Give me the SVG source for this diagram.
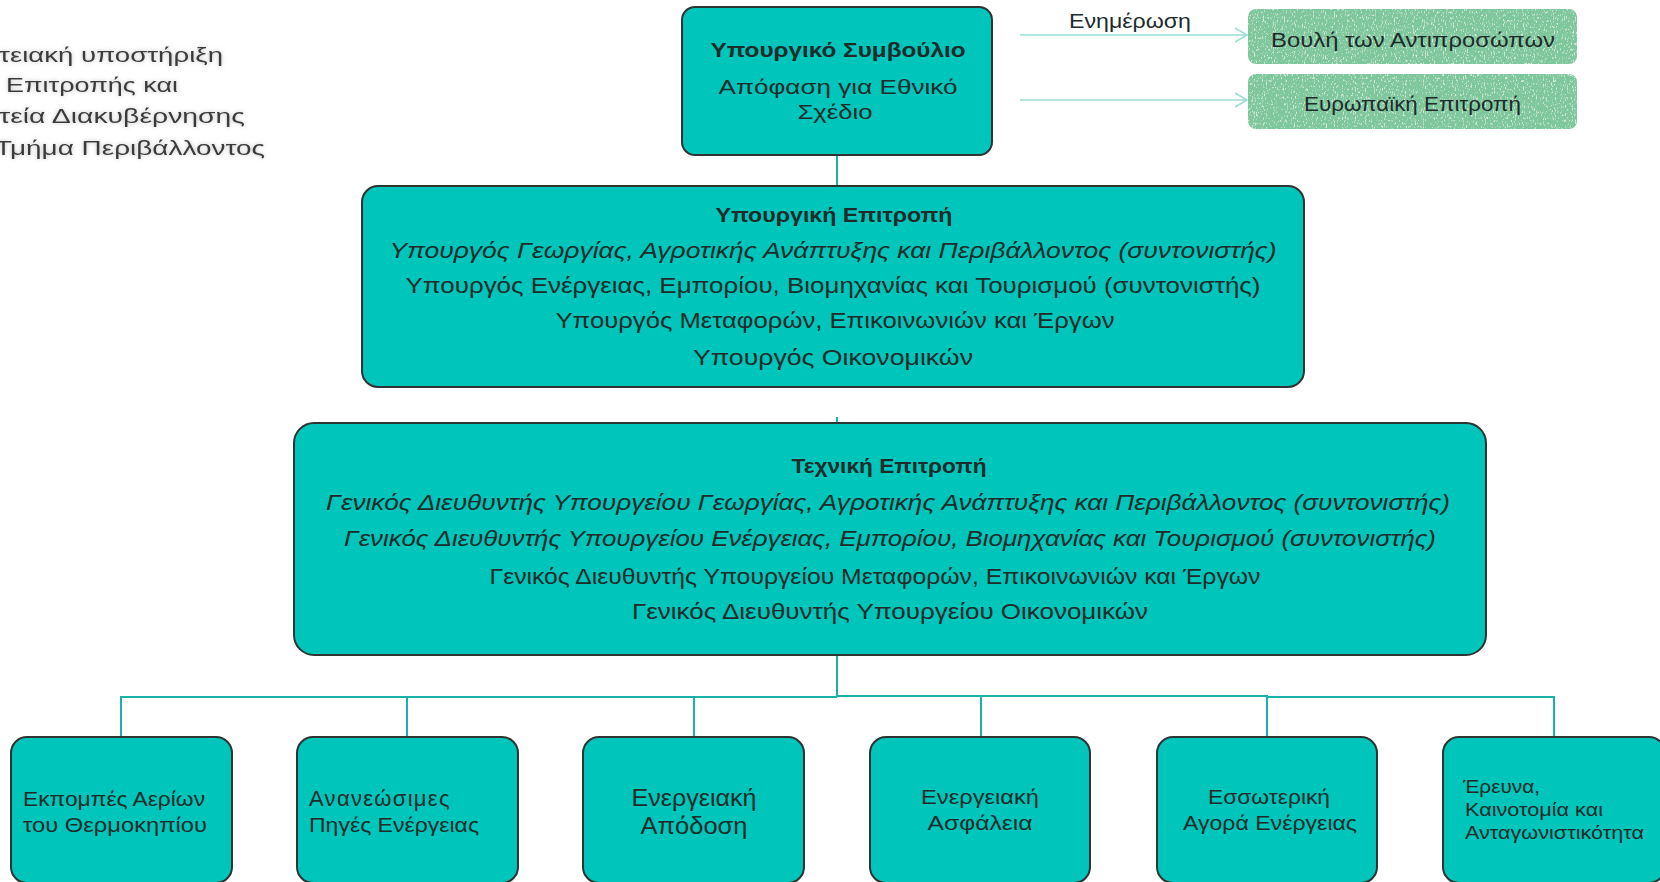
<svg xmlns="http://www.w3.org/2000/svg" width="1660" height="882" viewBox="0 0 1660 882">
<defs>
<style>
.box{fill:#00c5ba;stroke:#2e3333;stroke-width:2}
.gbox{fill:#7ec79c}
.t{font-family:"Liberation Sans","DejaVu Sans",sans-serif;fill:#1e2b2b;font-size:20px}
.c{text-anchor:middle}
.b{font-weight:bold}
.i{font-style:italic}
.con{stroke:#19b2a9;stroke-width:2;fill:none}
.arr{stroke:#9cdcd5;stroke-width:1.5;fill:none}
.side{font-family:"Liberation Sans","DejaVu Sans",sans-serif;fill:#3a3a3a;font-size:21px;text-anchor:end}
</style>
<filter id="tex" x="0" y="0" width="100%" height="100%">
<feTurbulence type="fractalNoise" baseFrequency="0.9 0.35" numOctaves="2" seed="4" result="n"/>
<feColorMatrix in="n" type="matrix" values="0 0 0 0 1  0 0 0 0 1  0 0 0 0 1  5 0 0 0 -2.8" result="spk"/>
<feComposite in="spk" in2="SourceGraphic" operator="in" result="s2"/>
<feComponentTransfer in="s2" result="s3"><feFuncA type="linear" slope="0.6"/></feComponentTransfer>
<feMerge><feMergeNode in="SourceGraphic"/><feMergeNode in="s3"/></feMerge>
</filter>
<filter id="glow" x="-10%" y="-30%" width="120%" height="160%">
<feGaussianBlur in="SourceAlpha" stdDeviation="2.2" result="bl"/>
<feFlood flood-color="#888" flood-opacity="0.55"/>
<feComposite in2="bl" operator="in" result="sh"/>
<feMerge><feMergeNode in="sh"/><feMergeNode in="SourceGraphic"/></feMerge>
</filter>
<marker id="chev" viewBox="0 0 14 16" refX="13" refY="8" markerWidth="14" markerHeight="16" markerUnits="userSpaceOnUse" orient="auto">
<path d="M1,1 L13,8 L1,15" fill="none" stroke="#9cdcd5" stroke-width="1.5"/>
</marker>
</defs>
<rect width="1660" height="882" fill="#ffffff"/>

<g id="side-note" filter="url(#glow)">
<text class="side" x="223" y="62" textLength="224" lengthAdjust="spacingAndGlyphs">τειακή υποστήριξη</text>
<text class="side" x="178" y="92" textLength="172" lengthAdjust="spacingAndGlyphs">Επιτροπής και</text>
<text class="side" x="245" y="123" textLength="246" lengthAdjust="spacingAndGlyphs">τεία Διακυβέρνησης</text>
<text class="side" x="265" y="155" textLength="270" lengthAdjust="spacingAndGlyphs">Τμήμα Περιβάλλοντος</text>
</g>

<g id="connectors">
<line class="con" x1="837" y1="155" x2="837" y2="186"/>
<line class="con" x1="837" y1="417" x2="837" y2="423"/>
<line class="con" x1="837" y1="655" x2="837" y2="696"/>
<path class="con" d="M837,697 H121 V737"/>
<path class="con" d="M837,697 H407 V737"/>
<path class="con" d="M837,697 H694 V737"/>
<path class="con" d="M837,696 H981 V737"/>
<path class="con" d="M837,696 H1267 V737"/>
<path class="con" d="M1267,697 H1554 V737"/>
<line class="arr" x1="1020" y1="35" x2="1247" y2="35" marker-end="url(#chev)"/>
<line class="arr" x1="1020" y1="100" x2="1247" y2="100" marker-end="url(#chev)"/>
<text class="t" x="1069" y="28" textLength="122" lengthAdjust="spacingAndGlyphs">Ενημέρωση</text>
</g>

<g id="cabinet">
<rect class="box" x="682" y="7" width="310" height="148" rx="13"/>
<text class="t c b" x="838" y="57" textLength="255" lengthAdjust="spacingAndGlyphs">Υπουργικό Συμβούλιο</text>
<text class="t c" x="838" y="94" textLength="239" lengthAdjust="spacingAndGlyphs" style="font-size:21px">Απόφαση για Εθνικό</text>
<text class="t c" x="835" y="119" textLength="75" lengthAdjust="spacingAndGlyphs" style="font-size:21px">Σχέδιο</text>
</g>

<g id="parliament">
<rect class="gbox" x="1248" y="9" width="329" height="55" rx="8" filter="url(#tex)"/>
<text class="t" x="1271" y="47" textLength="284" lengthAdjust="spacingAndGlyphs">Βουλή των Αντιπροσώπων</text>
</g>

<g id="eu-commission">
<rect class="gbox" x="1248" y="74" width="329" height="55" rx="8" filter="url(#tex)"/>
<text class="t" x="1304" y="111" textLength="217" lengthAdjust="spacingAndGlyphs">Ευρωπαϊκή Επιτροπή</text>
</g>

<g id="ministerial-committee">
<rect class="box" x="362" y="186" width="942" height="201" rx="16"/>
<text class="t c b" x="834" y="222" textLength="237" lengthAdjust="spacingAndGlyphs">Υπουργική Επιτροπή</text>
<text class="t c i" x="833" y="258" textLength="887" lengthAdjust="spacingAndGlyphs" style="font-size:22px">Υπουργός Γεωργίας, Αγροτικής Ανάπτυξης και Περιβάλλοντος (συντονιστής)</text>
<text class="t c" x="833" y="293" textLength="855" lengthAdjust="spacingAndGlyphs" style="font-size:22px">Υπουργός Ενέργειας, Εμπορίου, Βιομηχανίας και Τουρισμού (συντονιστής)</text>
<text class="t c" x="835" y="328" textLength="559" lengthAdjust="spacingAndGlyphs" style="font-size:22px">Υπουργός Μεταφορών, Επικοινωνιών και Έργων</text>
<text class="t c" x="833" y="365" textLength="280" lengthAdjust="spacingAndGlyphs" style="font-size:22px">Υπουργός Οικονομικών</text>
</g>

<g id="technical-committee">
<rect class="box" x="294" y="423" width="1192" height="232" rx="20"/>
<text class="t c b" x="889" y="473" textLength="195" lengthAdjust="spacingAndGlyphs">Τεχνική Επιτροπή</text>
<text class="t c i" x="888" y="510" textLength="1124" lengthAdjust="spacingAndGlyphs" style="font-size:22px">Γενικός Διευθυντής Υπουργείου Γεωργίας, Αγροτικής Ανάπτυξης και Περιβάλλοντος (συντονιστής)</text>
<text class="t c i" x="890" y="546" textLength="1092" lengthAdjust="spacingAndGlyphs" style="font-size:22px">Γενικός Διευθυντής Υπουργείου Ενέργειας, Εμπορίου, Βιομηχανίας και Τουρισμού (συντονιστής)</text>
<text class="t c" x="875" y="584" textLength="771" lengthAdjust="spacingAndGlyphs" style="font-size:22px">Γενικός Διευθυντής Υπουργείου Μεταφορών, Επικοινωνιών και Έργων</text>
<text class="t c" x="890" y="619" textLength="516" lengthAdjust="spacingAndGlyphs" style="font-size:22px">Γενικός Διευθυντής Υπουργείου Οικονομικών</text>
</g>

<g id="ghg">
<rect class="box" x="11" y="737" width="221" height="146" rx="16"/>
<text class="t" x="23" y="806" textLength="182" lengthAdjust="spacingAndGlyphs">Εκπομπές Αερίων</text>
<text class="t" x="23" y="832" textLength="184" lengthAdjust="spacingAndGlyphs">του Θερμοκηπίου</text>
</g>

<g id="renewables">
<rect class="box" x="297" y="737" width="221" height="146" rx="16"/>
<text class="t" x="309" y="806" style="font-size:22px;letter-spacing:1.3px">Ανανεώσιμες</text>
<text class="t" x="309" y="832" textLength="170" lengthAdjust="spacingAndGlyphs">Πηγές Ενέργειας</text>
</g>

<g id="efficiency">
<rect class="box" x="583" y="737" width="221" height="146" rx="16"/>
<text class="t c" x="694" y="806" textLength="125" lengthAdjust="spacingAndGlyphs" style="font-size:23px">Ενεργειακή</text>
<text class="t c" x="694" y="834" textLength="107" lengthAdjust="spacingAndGlyphs" style="font-size:23px">Απόδοση</text>
</g>

<g id="security">
<rect class="box" x="870" y="737" width="220" height="146" rx="16"/>
<text class="t c" x="980" y="804" textLength="118" lengthAdjust="spacingAndGlyphs">Ενεργειακή</text>
<text class="t c" x="980" y="830" textLength="105" lengthAdjust="spacingAndGlyphs">Ασφάλεια</text>
</g>

<g id="internal-market">
<rect class="box" x="1157" y="737" width="220" height="146" rx="16"/>
<text class="t c" x="1269" y="804" textLength="122" lengthAdjust="spacingAndGlyphs">Εσσωτερική</text>
<text class="t c" x="1270" y="830" textLength="174" lengthAdjust="spacingAndGlyphs">Αγορά Ενέργειας</text>
</g>

<g id="research">
<rect class="box" x="1443" y="737" width="222" height="146" rx="16"/>
<text class="t" x="1463" y="793" textLength="77" lengthAdjust="spacingAndGlyphs" style="font-size:18px">Έρευνα,</text>
<text class="t" x="1465" y="816" textLength="138" lengthAdjust="spacingAndGlyphs" style="font-size:18px">Καινοτομία και</text>
<text class="t" x="1465" y="839" textLength="179" lengthAdjust="spacingAndGlyphs" style="font-size:18px">Ανταγωνιστικότητα</text>
</g>
</svg>
